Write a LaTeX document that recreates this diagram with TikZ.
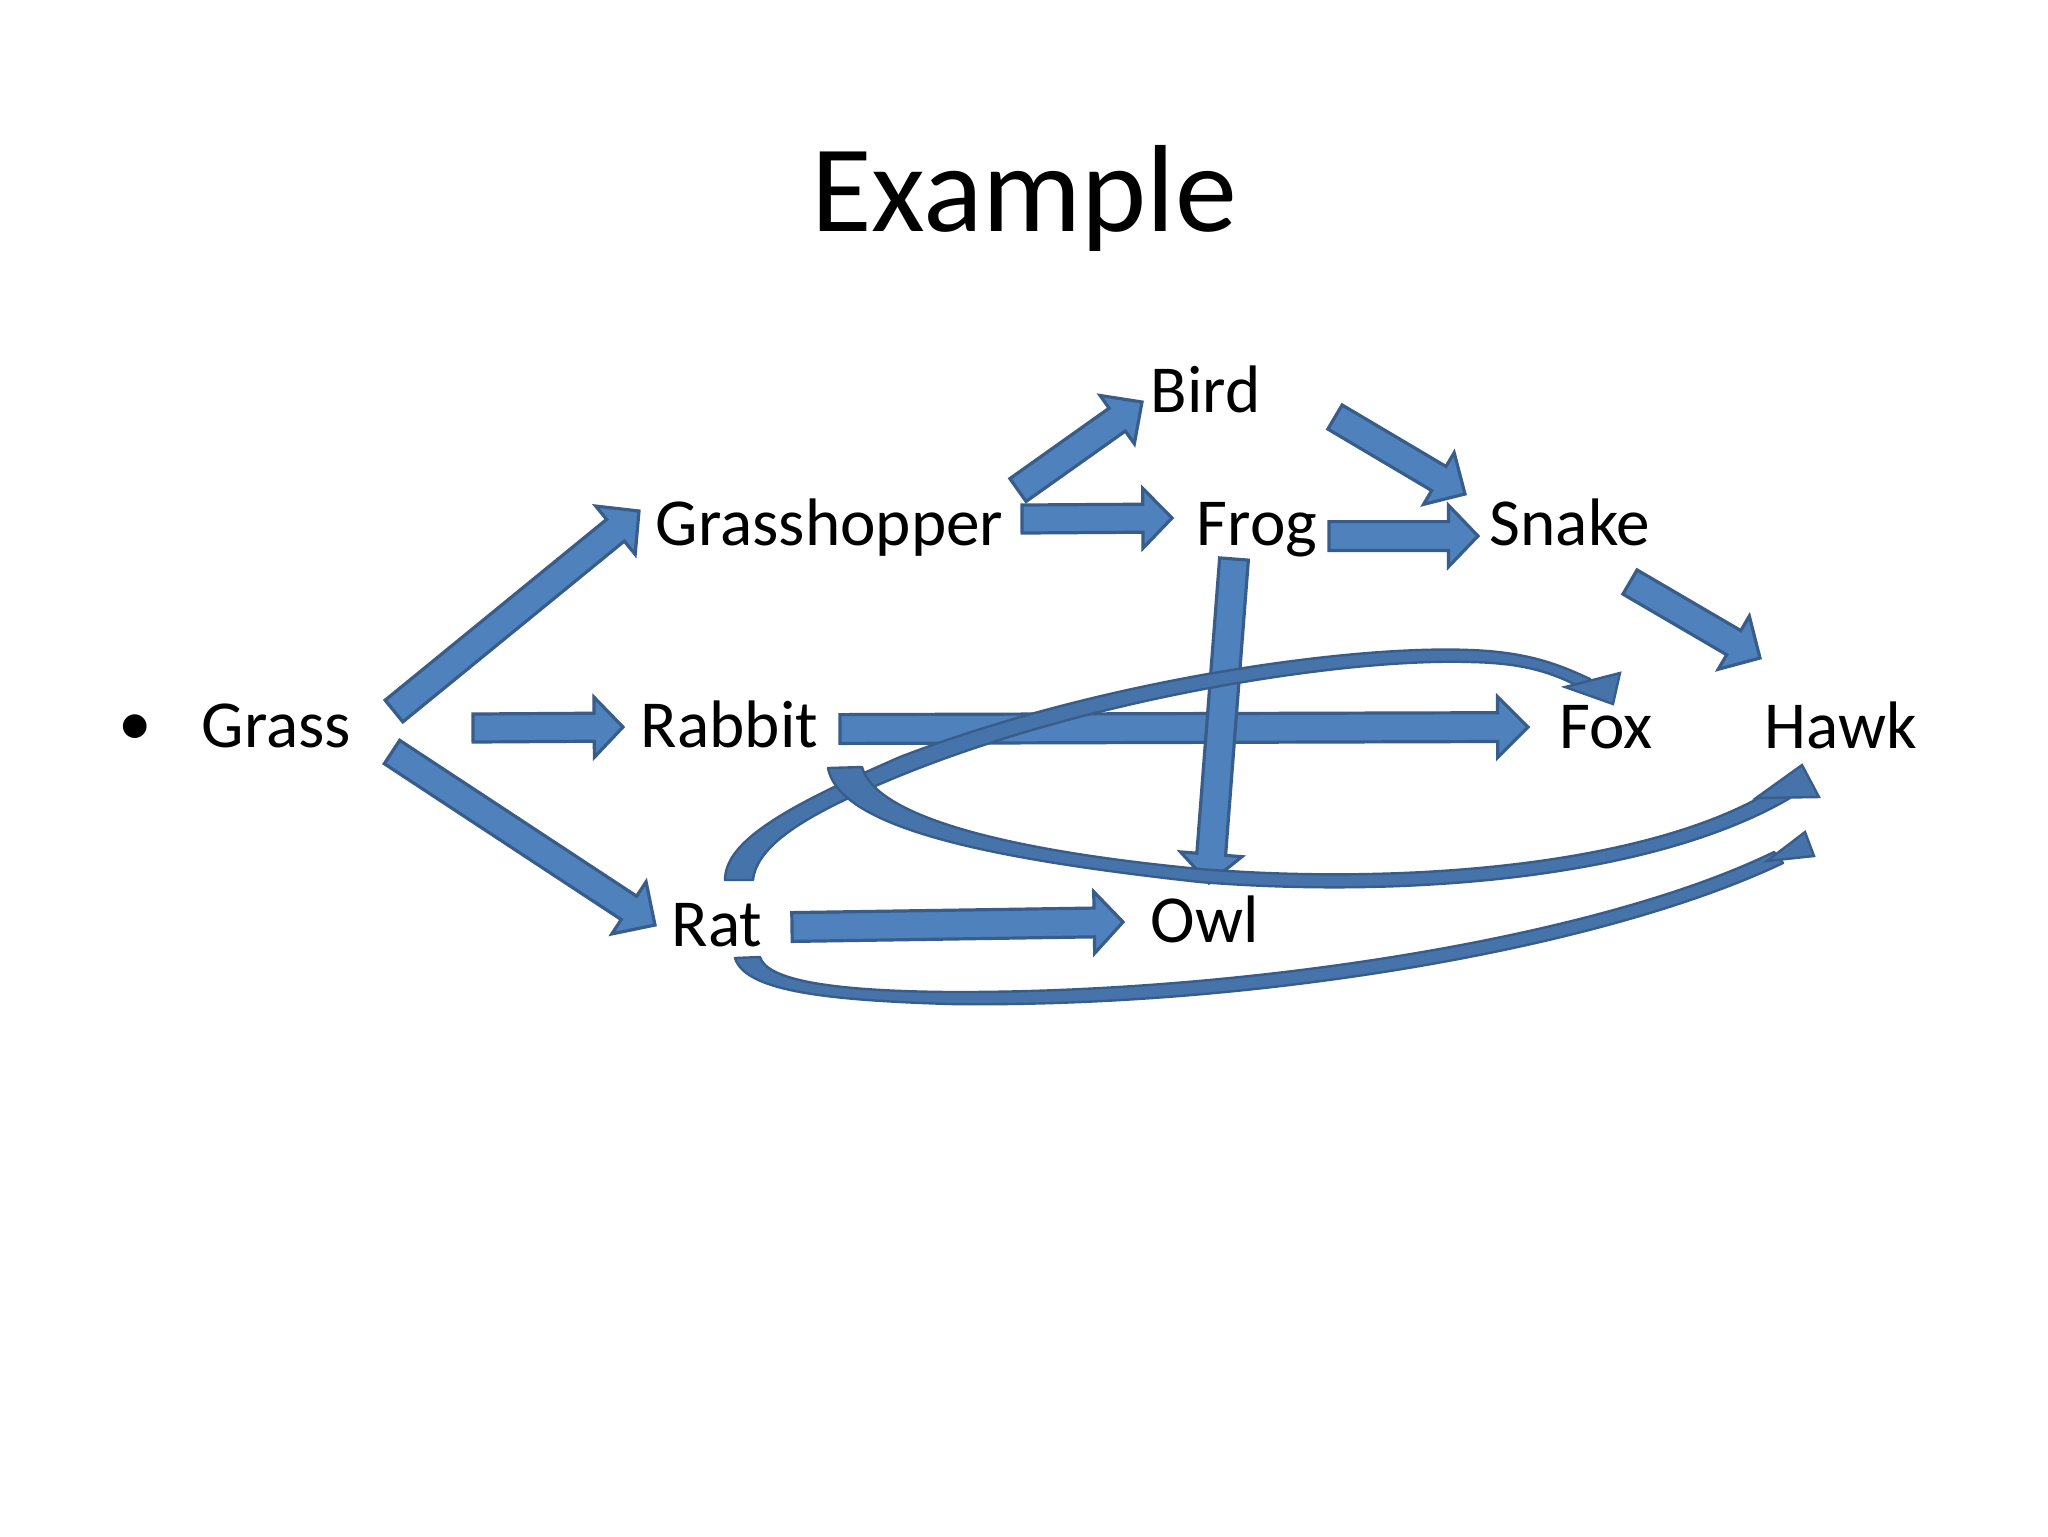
\documentclass[tikz,border=0pt]{standalone}
\usepackage{fontspec}
\setmainfont{Carlito}
\usetikzlibrary{calc}
\definecolor{arrfill}{HTML}{4F81BD}
\definecolor{arrline}{HTML}{385D8A}
\tikzset{
  blockshape/.style={fill=arrfill, draw=arrline, line width=0.8pt, line join=miter},
  curveshape/.style={fill=arrfill!60!arrline, draw=arrline, line width=0.6pt, line join=round},
  lbl/.style={anchor=base west, inner sep=0pt, font=\fontsize{16.8pt}{20pt}\selectfont},
}
% #1 tail, #2 tip, #3 half shaft, #4 half head, #5 head length
\newcommand\blockarrow[5]{%
  \coordinate (ba-h) at ($(#2)!#5!(#1)$);
  \filldraw[blockshape] ($(#1)!#3!90:(#2)$) -- ($(ba-h)!#3!90:(#2)$) -- ($(ba-h)!#4!90:(#2)$) -- (#2)
     -- ($(ba-h)!#4!-90:(#2)$) -- ($(ba-h)!#3!-90:(#2)$) -- ($(#1)!#3!-90:(#2)$) -- cycle;
}
\begin{document}
\begin{tikzpicture}[x=0.25pt,y=-0.25pt]
\fill[white] (0,0) rectangle (2048,1536);
\useasboundingbox (0,0) rectangle (2048,1536);

% title and labels
\node[anchor=base, inner sep=0pt, font=\fontsize{31pt}{37pt}\selectfont] (title) at (1024,231) {Example};
\node[inner sep=0pt, font=\fontsize{16.8pt}{20pt}\selectfont] (bullet) at (135,730) {•};
\node[lbl] (grass) at (201,747) {Grass};
\node[lbl] (ghopper) at (655,545) {Grasshopper};
\node[lbl] (bird) at (1150,412) {Bird};
\node[lbl] (frog) at (1196,545) {Frog};
\node[lbl] (snake) at (1489,545) {Snake};
\node[lbl] (rabbit) at (640,747) {Rabbit};
\node[lbl] (fox) at (1559,748) {Fox};
\node[lbl] (hawk) at (1764,748) {Hawk};
\node[lbl] (rat) at (671,946) {Rat};
\node[lbl] (owl) at (1150,942) {Owl};

% arrow end points
\coordinate (g2gh-a) at (394,711);   \coordinate (g2gh-b) at (639,511);
\coordinate (g2rb-a) at (473,728);   \coordinate (g2rb-b) at (623,727);
\coordinate (g2rt-a) at (392,752);   \coordinate (g2rt-b) at (655,925);
\coordinate (gh2bd-a) at (1018,490); \coordinate (gh2bd-b) at (1142,402);
\coordinate (gh2fr-a) at (1022,519); \coordinate (gh2fr-b) at (1172,518);
\coordinate (bd2sn-a) at (1335,417); \coordinate (bd2sn-b) at (1465,494);
\coordinate (fr2sn-a) at (1329,536); \coordinate (fr2sn-b) at (1478,536);
\coordinate (fr2ow-a) at (1234,559); \coordinate (fr2ow-b) at (1209,883);
\coordinate (sn2hk-a) at (1630,582); \coordinate (sn2hk-b) at (1760,658);
\coordinate (rb2fx-a) at (840,729);  \coordinate (rb2fx-b) at (1528,727);
\coordinate (rt2ow-a) at (792,927);  \coordinate (rt2ow-b) at (1123,922);

% straight block arrows
\blockarrow{g2gh-a}{g2gh-b}{3.5pt}{7.8pt}{7.6pt}
\blockarrow{g2rb-a}{g2rb-b}{3.5pt}{7.5pt}{7.2pt}
\blockarrow{g2rt-a}{g2rt-b}{3.5pt}{7.8pt}{7.8pt}
\blockarrow{gh2bd-a}{gh2bd-b}{3.5pt}{7.4pt}{7.6pt}
\blockarrow{gh2fr-a}{gh2fr-b}{3.5pt}{7.5pt}{7.3pt}
\blockarrow{bd2sn-a}{bd2sn-b}{3.5pt}{7.5pt}{7.6pt}
\blockarrow{fr2sn-a}{fr2sn-b}{3.6pt}{7.7pt}{7.4pt}
\blockarrow{sn2hk-a}{sn2hk-b}{3.5pt}{7.7pt}{7.6pt}
\blockarrow{rb2fx-a}{rb2fx-b}{3.6pt}{7.6pt}{7.6pt}
\blockarrow{rt2ow-a}{rt2ow-b}{3.6pt}{7.7pt}{7.2pt}
\blockarrow{fr2ow-a}{fr2ow-b}{3.6pt}{7.7pt}{7.2pt}

% curved arrows
\coordinate (rt2fx-a) at (739,880); \coordinate (rt2fx-b) at (1613,704);
\filldraw[curveshape] (725,880) .. controls (725,840) and (790,805) .. (900,757)
  .. controls (1100,680) and (1350,645) .. (1470,650)
  .. controls (1530,652) and (1562,666) .. (1590,679)
  -- (1584,689) .. controls (1555,674) and (1528,663) .. (1470,662)
  .. controls (1350,658) and (1100,695) .. (904,774)
  .. controls (805,814) and (757,845) .. (753,880) -- cycle;
\filldraw[curveshape, line join=miter] (1565,687) -- (1620,673) -- (rt2fx-b) -- cycle;

\coordinate (rb2hk-a) at (845,768); \coordinate (rb2hk-b) at (1802,765);
\filldraw[curveshape] (828,768) .. controls (840,830) and (1000,860) .. (1200,882)
  .. controls (1400,898) and (1650,880) .. (1790,798)
  -- (1776,788) .. controls (1650,867) and (1400,885) .. (1200,869)
  .. controls (1000,850) and (875,815) .. (862,767) -- cycle;
\filldraw[curveshape, line join=miter] (1756,798) -- (rb2hk-b) -- (1819,797) -- cycle;

\coordinate (rt2hk-a) at (748,958); \coordinate (rt2hk-b) at (1805,832);
\filldraw[curveshape] (735,958) .. controls (745,990) and (820,1000) .. (950,1004)
  .. controls (1250,1008) and (1600,950) .. (1783,863)
  -- (1774,852) .. controls (1600,937) and (1250,993) .. (950,992)
  .. controls (830,991) and (767,980) .. (760,957) -- cycle;
\filldraw[curveshape, line join=miter] (1767,861) -- (rt2hk-b) -- (1814,856) -- cycle;
\end{tikzpicture}
\end{document}
